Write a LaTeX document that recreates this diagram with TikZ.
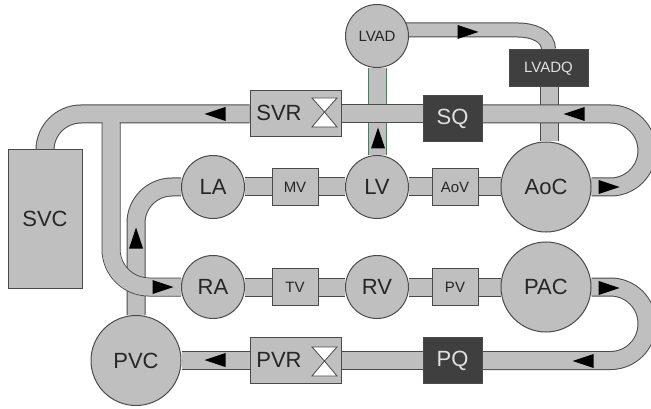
\documentclass[tikz,border=0pt]{standalone}
\usepackage{fontspec}
\setmainfont{Liberation Sans}
\usetikzlibrary{backgrounds}

\definecolor{tissue}{HTML}{BFBFBF}
\definecolor{edgegray}{HTML}{4A4A4A}
\definecolor{sensor}{HTML}{3F3F3F}
\definecolor{inkgray}{HTML}{262626}
\definecolor{assistedge}{HTML}{4F7A60}

\tikzset{
    chamber/.style={circle, draw=edgegray, line width=1pt, fill=tissue, text=inkgray, inner sep=0pt, font=\fontsize{22}{24}\selectfont},
    block/.style={rectangle, draw=edgegray, line width=1pt, fill=tissue, text=inkgray, inner sep=0pt, font=\fontsize{22}{24}\selectfont},
    sensorbox/.style={rectangle, draw=edgegray, line width=1pt, fill=sensor, text=white!88!black, inner sep=0pt, font=\fontsize{22}{24}\selectfont},
    boxlabel/.style={text=inkgray, inner sep=0pt, font=\fontsize{22}{24}\selectfont},
    smalltext/.style={font=\fontsize{15}{17}\selectfont},
    tube/.style={draw=edgegray, line width=1pt, double=tissue, double distance=17pt},
    tubecore/.style={draw=tissue, line width=17pt},
}

\begin{document}
\begin{tikzpicture}[x=1pt, y=-1pt]
    \useasboundingbox (0, 0) rectangle (651, 409);
    \clip (0, 0) rectangle (651, 409);

    \node[chamber, smalltext, minimum size=63] (lvad) at (377, 36) {LVAD};
    \node[sensorbox, smalltext, minimum width=79, minimum height=37] (lvadq) at (548.5, 68.5) {LVADQ};

    \node[block, minimum width=91, minimum height=46] (svr) at (295.5, 114) {};
    \node[boxlabel] (svrtext) at (279, 113) {SVR};
    \node[sensorbox, minimum width=59, minimum height=46] (sq) at (452.5, 119) {SQ};

    \node[block, minimum width=74, minimum height=138] (svc) at (45, 219) {SVC};

    \node[chamber, minimum size=63] (la) at (213, 187) {LA};
    \node[block, smalltext, minimum width=46, minimum height=37] (mv) at (295, 187) {MV};
    \node[chamber, minimum size=63] (lv) at (377, 187) {LV};
    \node[block, smalltext, minimum width=46, minimum height=37] (aov) at (455, 187) {AoV};
    \node[chamber, minimum size=90] (aoc) at (546, 187) {AoC};

    \node[chamber, minimum size=63] (ra) at (213, 287) {RA};
    \node[block, smalltext, minimum width=46, minimum height=37] (tv) at (295, 287) {TV};
    \node[chamber, minimum size=63] (rv) at (377, 287) {RV};
    \node[block, smalltext, minimum width=46, minimum height=37] (pv) at (455, 287) {PV};
    \node[chamber, minimum size=90] (pac) at (546, 287) {PAC};

    \node[chamber, minimum size=90] (pvc) at (136, 360.5) {PVC};
    \node[block, minimum width=91, minimum height=46] (pvr) at (295.5, 360.5) {};
    \node[boxlabel] (pvrtext) at (279, 360) {PVR};
    \node[sensorbox, minimum width=59, minimum height=46] (pq) at (452.5, 360.5) {PQ};

    \coordinate (lvadout) at (377, 30);
    \coordinate (lvadbend) at (518, 30);
    \coordinate (sysjoin) at (111, 114);
    \coordinate (aorticturn) at (647, 114);
    \coordinate (pulmturn) at (647, 360.5);

    \begin{scope}[on background layer]
        \draw[tube, draw=assistedge] (lvad) -- (lv);
        \draw[tube] (lvadq.south -| aoc.north) ++(3, 0) -- ([xshift=3pt]aoc.north);
        \draw[tube, double distance=13pt] (lvadout) -- (lvadbend) to[out=0, in=90] (lvadq.north);

        \draw[tube, rounded corners=36] (pvc.north) |- (la.west);

        \draw[tube, rounded corners=38] (sysjoin) |- (ra.west);
        \draw[tube, rounded corners=36] (svr.west) -| (svc.north);
        \draw[tubecore, rounded corners=38] (sysjoin) |- (ra.west);

        \draw[tube] (svr) -- (svr -| sq);
        \draw[tube, rounded corners=36.5] (aoc) -| (aorticturn) -- (aorticturn -| sq);
        \draw[tube, rounded corners=36.5] (pac) -| (pulmturn) -- (pulmturn -| pq);
        \draw[tube] (pvc) -- (pvr);
        \draw[tube] (pvr) -- (pq);

        \foreach \a/\b in {la/mv, mv/lv, lv/aov, aov/aoc, ra/tv, tv/rv, rv/pv, pv/pac}
            \draw[tube] (\a) -- (\b);
    \end{scope}

    \foreach \y in {112, 361}
        \filldraw[draw=edgegray, line width=0.8pt, fill=white, line join=miter]
            (312, \y-14) -- (337, \y-14) -- (324.5, \y) -- (337, \y+15) -- (312, \y+15) -- (324.5, \y) -- cycle;

    \foreach \x/\y/\a in {215/114/180, 468/32/0, 574/114/180, 378/138/90, 609/187/0, 136/238/90, 163/287/0, 215/360/180, 609/288/0, 583/361/180}
        \fill[black, shift={(\x, \y)}, rotate=\a] (-10.5, -7) -- (10.5, 0) -- (-10.5, 7) -- cycle;

\end{tikzpicture}
\end{document}
